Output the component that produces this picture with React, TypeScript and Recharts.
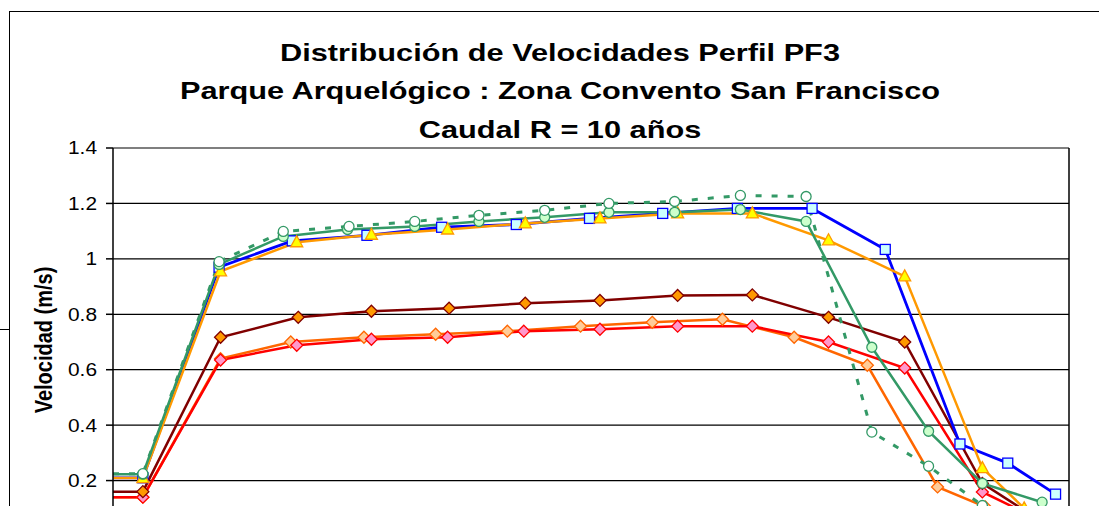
import React from 'react';
import { LineChart, Line, XAxis, YAxis, CartesianGrid, ReferenceLine } from 'recharts';

const FONT = '"Liberation Sans", Arial, sans-serif';

const TITLE_LINES = [
  'Distribución de Velocidades Perfil PF3',
  'Parque Arquelógico : Zona Convento San Francisco',
  'Caudal R = 10 años',
];
const Y_LABEL = 'Velocidad (m/s)';
const Y_TICKS = [0.2, 0.4, 0.6, 0.8, 1, 1.2, 1.4];
const X_MAX = 64;

// abscisas (m) y velocidades (m/s) de cada serie
const azulX = [0, 2.0, 7.1, 12.0, 17.0, 22.0, 27.0, 31.9, 36.8, 41.8, 46.8, 51.7, 56.7, 59.9, 63.1];
const azulV = [0.21, 0.21, 0.97, 1.065, 1.085, 1.114, 1.124, 1.146, 1.164, 1.182, 1.182, 1.034, 0.332, 0.263, 0.151];

const naranjaX = [0, 2.0, 7.2, 12.3, 17.3, 22.4, 27.6, 32.6, 37.8, 42.8, 47.9, 53.0, 58.2, 61.0];
const naranjaV = [0.209, 0.209, 0.955, 1.06, 1.087, 1.106, 1.128, 1.146, 1.164, 1.164, 1.067, 0.937, 0.245, 0.1];

const verdeX = [0, 2.0, 7.1, 11.4, 15.7, 20.2, 24.5, 28.9, 33.2, 37.6, 42.0, 46.4, 50.8, 54.6, 58.2, 62.2];
const verdeV = [0.223, 0.223, 0.98, 1.081, 1.106, 1.117, 1.135, 1.15, 1.168, 1.168, 1.178, 1.135, 0.681, 0.378, 0.19, 0.122];

const verdePuntosX = [0, 2.0, 7.1, 11.4, 15.8, 20.2, 24.5, 28.9, 33.2, 37.6, 42.0, 46.4, 50.8, 54.6, 58.2];
const verdePuntosV = [0.225, 0.225, 0.99, 1.099, 1.117, 1.135, 1.157, 1.175, 1.2, 1.207, 1.229, 1.225, 0.375, 0.252, 0.11];

const granateX = [0, 2.0, 7.2, 12.4, 17.3, 22.5, 27.6, 32.6, 37.8, 42.8, 47.9, 53.0, 58.2, 63.1];
const granateV = [0.16, 0.16, 0.717, 0.789, 0.811, 0.822, 0.84, 0.85, 0.868, 0.87, 0.789, 0.7, 0.19, 0.02];

const rojoX = [0, 2.0, 7.2, 12.3, 17.3, 22.4, 27.5, 32.6, 37.8, 42.8, 47.9, 53.0, 58.2, 63.1];
const rojoV = [0.14, 0.14, 0.635, 0.688, 0.71, 0.717, 0.739, 0.746, 0.757, 0.757, 0.7, 0.606, 0.159, 0.03];

const mandarinaX = [0, 2.0, 7.2, 11.9, 16.8, 21.6, 26.4, 31.3, 36.1, 40.8, 45.6, 50.5, 55.2, 58.4];
const mandarinaV = [0.14, 0.14, 0.64, 0.7, 0.717, 0.728, 0.739, 0.757, 0.771, 0.782, 0.717, 0.616, 0.177, 0.105];

const toPoints = (xs: number[], vs: number[]) => xs.map((x, i) => ({ x, v: vs[i] }));

type Shape = 'square' | 'triangle' | 'circle' | 'diamond';

interface Serie {
  name: string;
  data: { x: number; v: number }[];
  color: string;
  width: number;
  dash?: string;
  shape: Shape;
  fill: string;
  markerStroke: string;
}

// orden de dibujo: las últimas quedan encima
const series: Serie[] = [
  { name: 'Serie 7', data: toPoints(mandarinaX, mandarinaV), color: '#FF6600', width: 2.5, shape: 'diamond', fill: '#FFCC99', markerStroke: '#FF6600' },
  { name: 'Serie 6', data: toPoints(rojoX, rojoV), color: '#FF0000', width: 2.5, shape: 'diamond', fill: '#FF99CC', markerStroke: '#FF0000' },
  { name: 'Serie 5', data: toPoints(granateX, granateV), color: '#800000', width: 2.5, shape: 'diamond', fill: '#FF9900', markerStroke: '#800000' },
  { name: 'Serie 1', data: toPoints(azulX, azulV), color: '#0000FF', width: 2.8, shape: 'square', fill: '#CCFFFF', markerStroke: '#0000FF' },
  { name: 'Serie 2', data: toPoints(naranjaX, naranjaV), color: '#FF9900', width: 2.5, shape: 'triangle', fill: '#FFFF00', markerStroke: '#FF9900' },
  { name: 'Serie 3', data: toPoints(verdeX, verdeV), color: '#339966', width: 2.5, shape: 'circle', fill: '#CCFFCC', markerStroke: '#339966' },
  { name: 'Serie 4', data: toPoints(verdePuntosX, verdePuntosV), color: '#339966', width: 3, dash: '6 10', shape: 'circle', fill: '#FFFFFF', markerStroke: '#339966' },
];

const renderMarker = (s: Serie) => (props: any) => {
  const { cx, cy, index } = props;
  const key = `${s.name}-${index}`;
  if (index === 0 || cx == null || cy == null) return <g key={key} />;
  const common = { fill: s.fill, stroke: s.markerStroke, strokeWidth: 1.3 };
  if (s.shape === 'square') return <rect key={key} x={cx - 5} y={cy - 5} width={10} height={10} {...common} />;
  if (s.shape === 'circle') return <circle key={key} cx={cx} cy={cy} r={5} {...common} />;
  if (s.shape === 'triangle')
    return <polygon key={key} points={`${cx},${cy - 6.5} ${cx + 6},${cy + 4.5} ${cx - 6},${cy + 4.5}`} {...common} />;
  return <polygon key={key} points={`${cx},${cy - 6} ${cx + 6},${cy} ${cx},${cy + 6} ${cx - 6},${cy}`} {...common} />;
};

const YTick = ({ x, y, payload }: any) => (
  <text
    transform={`translate(${x},${y + 6.4}) scale(1.16,1)`}
    textAnchor="end"
    fontSize={18}
    fontFamily={FONT}
    fill="#000"
  >
    {String(payload.value)}
  </text>
);

export default function App() {
  return (
    <div style={{ position: 'fixed', left: 0, top: 0, width: 1099, height: 506, overflow: 'hidden', background: '#fff', fontFamily: FONT }}>
      <div style={{ position: 'absolute', left: 9, top: 11, width: 1200, height: 700, border: '1px solid #000', boxSizing: 'border-box' }} />
      <div style={{ position: 'absolute', left: 0, top: 329, width: 9, height: 1, background: '#000' }} />

      <div style={{ position: 'absolute', left: 0, top: 0 }}>
        <LineChart width={1099} height={600} margin={{ top: 148, right: 30, bottom: 34, left: 0 }}>
          <CartesianGrid vertical={false} stroke="#000" strokeWidth={1.2} />
          <XAxis type="number" dataKey="x" domain={[0, X_MAX]} height={30} stroke="#000" tick={false} />
          <YAxis
            type="number"
            domain={[0, 1.4]}
            ticks={Y_TICKS}
            width={113}
            stroke="#000"
            strokeWidth={1.5}
            tickSize={7}
            tickMargin={9}
            tick={<YTick />}
          />
          <ReferenceLine x={X_MAX} stroke="#000" strokeWidth={1.5} />
          {series.map((s) => (
            <Line
              key={s.name}
              name={s.name}
              data={s.data}
              dataKey="v"
              type="linear"
              stroke={s.color}
              strokeWidth={s.width}
              strokeDasharray={s.dash}
              dot={renderMarker(s)}
              activeDot={false}
              isAnimationActive={false}
            />
          ))}
        </LineChart>
      </div>

      <div
        style={{
          position: 'absolute',
          left: 60,
          top: 33.5,
          width: 1000,
          textAlign: 'center',
          fontSize: 24,
          fontWeight: 'bold',
          lineHeight: '38.5px',
          color: '#000',
        }}
      >
        {TITLE_LINES.map((t) => (
          <div key={t} style={{ transform: 'scaleX(1.28)' }}>{t}</div>
        ))}
      </div>

      <div
        style={{
          position: 'absolute',
          left: 44,
          top: 340,
          fontSize: 20,
          fontWeight: 'bold',
          whiteSpace: 'nowrap',
          color: '#000',
          transform: 'translate(-50%, -50%) rotate(-90deg) scale(1, 1.2)',
        }}
      >
        {Y_LABEL}
      </div>
    </div>
  );
}
